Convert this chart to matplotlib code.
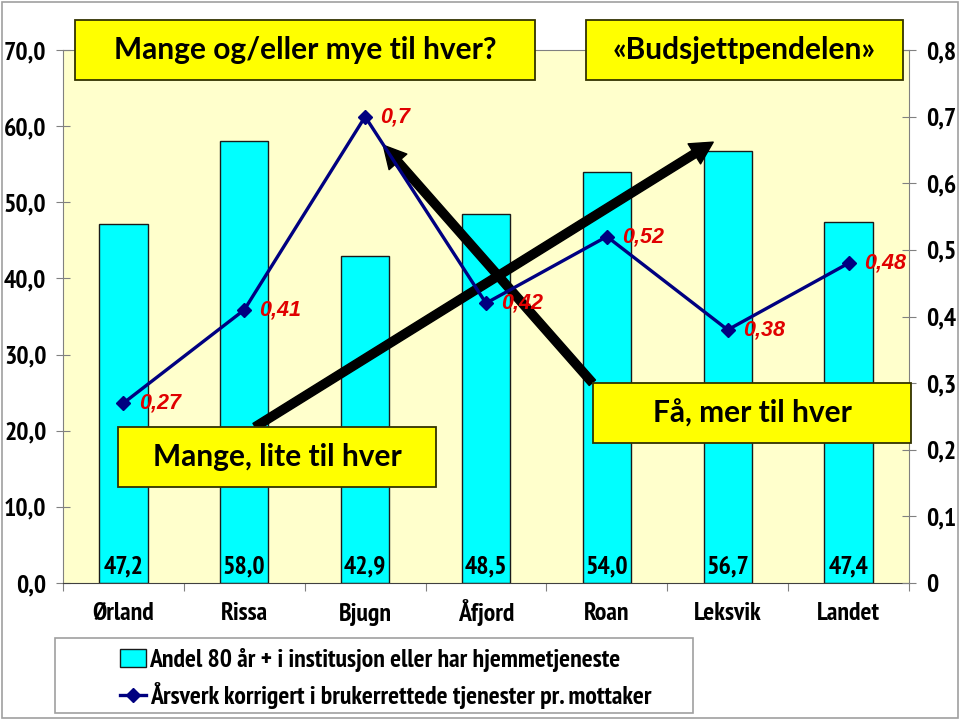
import os
import numpy as np
import matplotlib
matplotlib.use('Agg')
from matplotlib import pyplot as plt
from matplotlib import font_manager
from matplotlib.font_manager import FontProperties
from matplotlib.patches import Rectangle, Patch
from matplotlib.lines import Line2D

# data
kommuner = ['Ørland', 'Rissa', 'Bjugn', 'Åfjord', 'Roan', 'Leksvik', 'Landet']
andel_80 = [47.2, 58.0, 42.9, 48.5, 54.0, 56.7, 47.4]
andel_labels = ['47,2', '58,0', '42,9', '48,5', '54,0', '56,7', '47,4']
aarsverk = [0.27, 0.41, 0.7, 0.42, 0.52, 0.38, 0.48]
aarsverk_labels = ['0,27', '0,41', '0,7', '0,42', '0,52', '0,38', '0,48']
left_ticks = [0, 10, 20, 30, 40, 50, 60, 70]
left_labels = ['0,0', '10,0', '20,0', '30,0', '40,0', '50,0', '60,0', '70,0']
right_ticks = [0, 0.1, 0.2, 0.3, 0.4, 0.5, 0.6, 0.7, 0.8]
right_labels = ['0', '0,1', '0,2', '0,3', '0,4', '0,5', '0,6', '0,7', '0,8']

BOXFONT = ['Lato', 'DejaVu Sans']
W, H = 960, 720


def find_font(want):
    """Look for an installed narrow/condensed bold face (Arial Narrow look-alike)."""
    for f in font_manager.fontManager.ttflist:
        base = os.path.basename(f.fname).lower()
        if all(w in base for w in want) and 'italic' not in base and 'oblique' not in base:
            return f.fname
    return None


narrow_bold = find_font(['narrow', 'bold']) or find_font(['condensed', 'bold'])


def fp(size):
    if narrow_bold:
        return FontProperties(fname=narrow_bold, size=size)
    return FontProperties(family='Liberation Sans', weight='bold', size=size * 0.92)


def fx(px):
    return px / W


def fy(py):
    return 1 - py / H


fig = plt.figure(figsize=(9.6, 7.2), dpi=100)
fig.patches.append(Rectangle((fx(2), fy(718)), fx(956), 716 / H, transform=fig.transFigure,
                             fill=False, edgecolor='#a0a0a0', lw=1.2))

ax = fig.add_axes([fx(63), fy(583), fx(909 - 63), 533 / H])
ax.set_facecolor('#FFFFCC')
x = np.arange(len(kommuner))
ax.bar(x, andel_80, width=0.4, color='#00FFFF', edgecolor='#1a1a1a', lw=1, zorder=2)
for xi, lab in zip(x, andel_labels):
    ax.annotate(lab, (xi, 0), xytext=(0, 7), textcoords='offset points', ha='center',
                va='baseline', fontproperties=fp(18.5), zorder=3)

ax.set_xlim(-0.5, len(kommuner) - 0.5)
ax.set_ylim(0, 70)
ax.set_yticks(left_ticks)
ax.set_yticklabels(left_labels, fontproperties=fp(18.5))
ax.set_xticks(np.arange(-0.5, len(kommuner), 1.0))
ax.set_xticklabels([])
ax.set_xticks(x, minor=True)
ax.set_xticklabels(kommuner, minor=True, fontproperties=fp(18.5), va='baseline')
ax.tick_params(axis='x', which='major', direction='out', length=6, color='#808080')
ax.tick_params(axis='x', which='minor', length=0, pad=27)
ax.tick_params(axis='y', direction='inout', length=10, color='#808080', pad=7)
for s in ['left', 'right', 'top']:
    ax.spines[s].set_color('#808080')
ax.spines['bottom'].set_color('#404040')

ax2 = ax.twinx()
ax2.set_ylim(0, 0.8)
ax2.plot(x, aarsverk, color='#000080', lw=2.4, marker='D', markersize=7.5, zorder=4)
for xi, v, lab in zip(x, aarsverk, aarsverk_labels):
    ax2.annotate(lab, (xi, v), xytext=(11, 0), textcoords='offset points', ha='left', va='center',
                 color='#E00000', fontsize=15.5, fontweight='bold', fontstyle='italic',
                 family=['Liberation Sans', 'DejaVu Sans'], zorder=5)
ax2.set_yticks(right_ticks)
ax2.set_yticklabels(right_labels, fontproperties=fp(18.5))
ax2.tick_params(axis='y', direction='inout', length=10, color='#808080', pad=7)
for s in ['left', 'right', 'top', 'bottom']:
    ax2.spines[s].set_visible(False)

# the two "pendel" arrows (category / left-axis units)
arrow = dict(width=6, headwidth=17, headlength=16, color='black', shrink=0)
ax.annotate('', xy=(4.88, 57.9), xytext=(1.09, 20.5), arrowprops=arrow, zorder=6)
ax.annotate('', xy=(2.15, 57.5), xytext=(3.88, 26.3), arrowprops=arrow, zorder=6)

# yellow text boxes
boxes = [
    ('Mange og/eller mye til hver?', 75, 20, 535, 80),
    ('«Budsjettpendelen»', 586, 20, 903, 80),
    ('Mange, lite til hver', 118, 427, 436, 487),
    ('Få, mer til hver', 593, 383, 911, 443),
]
for txt, x0, y0, x1, y1 in boxes:
    fig.patches.append(Rectangle((fx(x0), fy(y1)), fx(x1 - x0), (y1 - y0) / H,
                                 transform=fig.transFigure, facecolor='#FFFF00',
                                 edgecolor='#333300', lw=1.3, zorder=10))
    fig.text(fx((x0 + x1) / 2), fy((y0 + y1) / 2), txt, ha='center', va='center',
             fontsize=21.5, fontweight='bold', family=BOXFONT, zorder=11)

# legend
fig.patches.append(Rectangle((fx(55), fy(713)), fx(693 - 55), 75 / H, transform=fig.transFigure,
                             facecolor='white', edgecolor='#a0a0a0', lw=1.2))
handles = [Patch(facecolor='#00FFFF', edgecolor='#1a1a1a'),
           Line2D([], [], color='#000080', lw=2.4, marker='D', markersize=7.5)]
names = ['Andel 80 år + i institusjon eller har hjemmetjeneste',
         'Årsverk korrigert i brukerrettede tjenester pr. mottaker']
fig.legend(handles, names, loc='upper left', bbox_to_anchor=(fx(102), fy(630)), frameon=False,
           prop=fp(18.5), handlelength=1.0, handletextpad=0.15, labelspacing=0.4, borderpad=0.2)

fig.savefig('out.png', dpi=100)
